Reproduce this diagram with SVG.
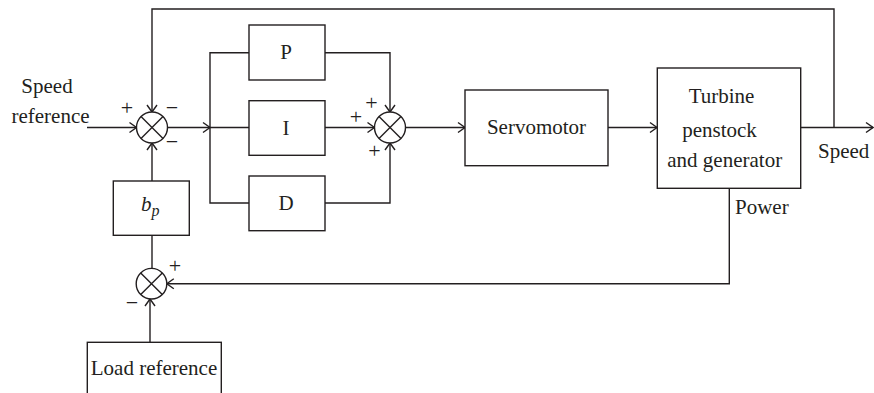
<svg xmlns="http://www.w3.org/2000/svg" width="874" height="393" viewBox="0 0 874 393">
<style>
.bx{fill:#fff;stroke:#231f20;stroke-width:1.4}
.ln{fill:none;stroke:#231f20;stroke-width:1.4}
.t{font-family:"Liberation Serif","Times New Roman",serif;font-size:21px;fill:#231f20}
.m{text-anchor:middle}
.s{font-family:"Liberation Serif","Times New Roman",serif;font-size:22px;fill:#231f20;text-anchor:middle}
</style>
<defs>
<marker id="ar" markerUnits="userSpaceOnUse" markerWidth="12" markerHeight="12" refX="0" refY="0" viewBox="-9 -6 10 12" orient="auto" overflow="visible">
<path d="M-7,-5 L0,0 L-7,5" fill="none" stroke="#231f20" stroke-width="1.4"/>
</marker>
</defs>
<rect width="874" height="393" fill="#fff"/>
<g id="connectors">
<path class="ln" d="M87,127.5 H136.5" marker-end="url(#ar)"/>
<path class="ln" d="M167.5,127.5 H210" marker-end="url(#ar)"/>
<path class="ln" d="M249,52.7 H210 V203 H249 M210,127.5 H249"/>
<path class="ln" d="M325,52.7 H390 V112" marker-end="url(#ar)"/>
<path class="ln" d="M325,127.5 H374.5" marker-end="url(#ar)"/>
<path class="ln" d="M325,203 H390 V143" marker-end="url(#ar)"/>
<path class="ln" d="M405.5,127.5 H465" marker-end="url(#ar)"/>
<path class="ln" d="M608,127.5 H657" marker-end="url(#ar)"/>
<path class="ln" d="M801,127.5 H873" marker-end="url(#ar)"/>
<path class="ln" d="M834,127.5 V9 H152 V112" marker-end="url(#ar)"/>
<path class="ln" d="M729.3,188.3 V283.7 H166.8" marker-end="url(#ar)"/>
<path class="ln" d="M152,181 V143" marker-end="url(#ar)"/>
<path class="ln" d="M152,235.3 V268.4"/>
<path class="ln" d="M150,342.3 V299" marker-end="url(#ar)"/>
</g>
<g id="speed-reference">
<text class="t m" x="47" y="93">Speed</text>
<text class="t m" x="50.5" y="122.5">reference</text>
</g>
<g id="sum1">
<circle class="bx" cx="152" cy="127.5" r="15.5"/>
<path class="ln" d="M141,116.5 L163,138.5 M163,116.5 L141,138.5"/>
<text class="s" x="127" y="114.5">+</text>
<text class="s" x="172" y="114.5">−</text>
<text class="s" x="172" y="148.5">−</text>
</g>
<g id="P"><rect class="bx" x="249" y="25" width="76" height="55"/><text class="t m" x="286" y="59">P</text></g>
<g id="I"><rect class="bx" x="249" y="100.7" width="76" height="54.6"/><text class="t m" x="286" y="134.5">I</text></g>
<g id="D"><rect class="bx" x="249" y="176" width="76" height="54.7"/><text class="t m" x="286" y="210">D</text></g>
<g id="sum2">
<circle class="bx" cx="390" cy="127.5" r="15.5"/>
<path class="ln" d="M379,116.5 L401,138.5 M401,116.5 L379,138.5"/>
<text class="s" x="371.5" y="110">+</text>
<text class="s" x="356" y="124">+</text>
<text class="s" x="374.5" y="157.5">+</text>
</g>
<g id="servomotor"><rect class="bx" x="465" y="90" width="143" height="75.7"/><text class="t m" x="536.5" y="133.5">Servomotor</text></g>
<g id="turbine">
<rect class="bx" x="657.3" y="68" width="143.4" height="120.3"/>
<text class="t m" x="721.5" y="103.3">Turbine</text>
<text class="t m" x="719.5" y="136.7">penstock</text>
<text class="t m" x="724.7" y="167.3">and generator</text>
</g>
<g id="speed-out"><text class="t" x="818" y="158.3">Speed</text></g>
<g id="power"><text class="t" x="735" y="214">Power</text></g>
<g id="bp">
<rect class="bx" x="113.3" y="181" width="76" height="54.3"/>
<text class="t" x="141" y="211" font-style="italic">b<tspan font-size="16" dy="5">p</tspan></text>
</g>
<g id="sum3">
<circle class="bx" cx="151.5" cy="283.7" r="15.3"/>
<path class="ln" d="M140.7,272.9 L162.3,294.5 M162.3,272.9 L140.7,294.5"/>
<text class="s" x="175" y="272.5">+</text>
<text class="s" x="132" y="309.5">−</text>
</g>
<g id="load-reference">
<rect class="bx" x="87.3" y="342.3" width="134" height="70"/>
<text class="t m" x="154" y="375">Load reference</text>
</g>
</svg>
